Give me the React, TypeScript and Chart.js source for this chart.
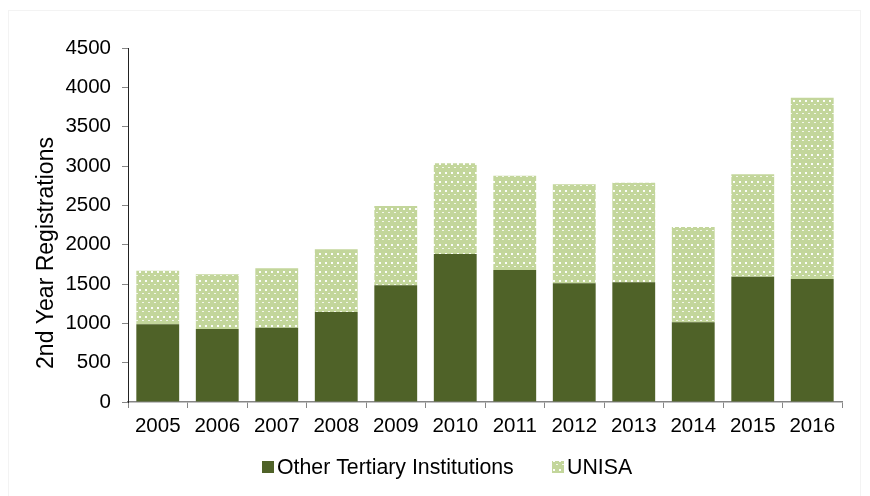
import React, { useEffect, useRef } from "react";
import { Chart, registerables } from "chart.js";

Chart.register(...registerables);

const years = ["2005", "2006", "2007", "2008", "2009", "2010", "2011", "2012", "2013", "2014", "2015", "2016"];
const otherTertiary = [988, 928, 944, 1144, 1483, 1881, 1678, 1509, 1521, 1013, 1593, 1563];
const unisa = [681, 695, 756, 797, 1008, 1153, 1199, 1258, 1267, 1212, 1301, 2305];
const yTicks = [0, 500, 1000, 1500, 2000, 2500, 3000, 3500, 4000, 4500];

const DARK = "#4f6228";
const LIGHT = "#c3d69b";
const FONT = "'Liberation Sans', Arial, sans-serif";

function makePattern(): CanvasPattern | string {
  const c = document.createElement("canvas");
  c.width = 6;
  c.height = 9;
  const x = c.getContext("2d");
  if (!x) return LIGHT;
  x.fillStyle = LIGHT;
  x.fillRect(0, 0, 6, 9);
  x.fillStyle = "rgba(255,255,255,0.95)";
  x.fillRect(1, 1, 2, 2);
  x.fillStyle = "rgba(255,255,255,0.8)";
  x.fillRect(4, 5, 2, 1);
  const p = x.createPattern(c, "repeat");
  return p || LIGHT;
}

export default function App() {
  const ref = useRef<HTMLCanvasElement>(null);
  useEffect(() => {
    if (!ref.current) return;
    const pattern = makePattern();
    const decor = {
      id: "decor",
      beforeDraw(chart: any) {
        const ctx = chart.ctx;
        ctx.save();
        ctx.strokeStyle = "#f3f3f3";
        ctx.lineWidth = 1;
        ctx.strokeRect(8.5, 10.5, 852, 490);
        ctx.restore();
      },
      afterDraw(chart: any) {
        const ctx = chart.ctx;
        ctx.save();
        ctx.translate(47, 253);
        ctx.rotate(-Math.PI / 2);
        ctx.font = `23px ${FONT}`;
        ctx.fillStyle = "#000";
        ctx.textAlign = "center";
        ctx.textBaseline = "middle";
        ctx.fillText("2nd Year Registrations", 0, 0);
        ctx.restore();
        ctx.save();
        ctx.font = `21.3px ${FONT}`;
        ctx.textBaseline = "middle";
        ctx.textAlign = "left";
        const cy = 467;
        const items = chart.data.datasets.map((d: any, i: number) => ({ label: d.label, fill: i === 0 ? DARK : pattern }));
        const xs = [262, 552];
        items.forEach((it: any, i: number) => {
          ctx.fillStyle = it.fill;
          ctx.fillRect(xs[i], cy - 6, 12, 12);
          ctx.fillStyle = "#000";
          ctx.fillText(it.label, xs[i] + 15, cy + 1);
        });
        ctx.restore();
      },
    };
    const chart = new Chart(ref.current, {
      type: "bar",
      data: {
        labels: years,
        datasets: [
          { label: "Other Tertiary Institutions", data: otherTertiary, backgroundColor: DARK, borderWidth: 0, barPercentage: 0.72, categoryPercentage: 1 },
          { label: "UNISA", data: unisa, backgroundColor: pattern as any, borderWidth: 0, barPercentage: 0.72, categoryPercentage: 1 },
        ],
      },
      options: {
        animation: false,
        responsive: false,
        layout: { padding: { left: 0, top: 48, right: 28, bottom: 0 } },
        plugins: { legend: { display: false }, tooltip: { enabled: false } },
        scales: {
          x: {
            stacked: true,
            afterFit(scale: any) { scale.height = 94; },
            border: { color: "#868686", width: 1.5 },
            grid: { display: true, drawOnChartArea: false, tickLength: 6, color: "#868686", offset: true },
            ticks: { color: "#000", font: { family: FONT, size: 20.5 }, padding: 6, maxRotation: 0 },
          },
          y: {
            stacked: true,
            min: 0,
            max: 4500,
            afterFit(scale: any) { scale.width = 128; },
            afterBuildTicks(scale: any) { scale.ticks = yTicks.map((v) => ({ value: v })); },
            border: { color: "#222", width: 1 },
            grid: { display: true, drawOnChartArea: false, tickLength: 6, color: "#868686" },
            ticks: { color: "#000", font: { family: FONT, size: 20.5 }, padding: 11, callback: (v: any) => String(v) },
          },
        },
      },
      plugins: [decor],
    });
    return () => chart.destroy();
  }, []);
  return (
    <div style={{ position: "absolute", left: 0, top: 0, width: 870, height: 496, background: "#fff" }}>
      <canvas ref={ref} width={870} height={496} style={{ display: "block" }} />
    </div>
  );
}
